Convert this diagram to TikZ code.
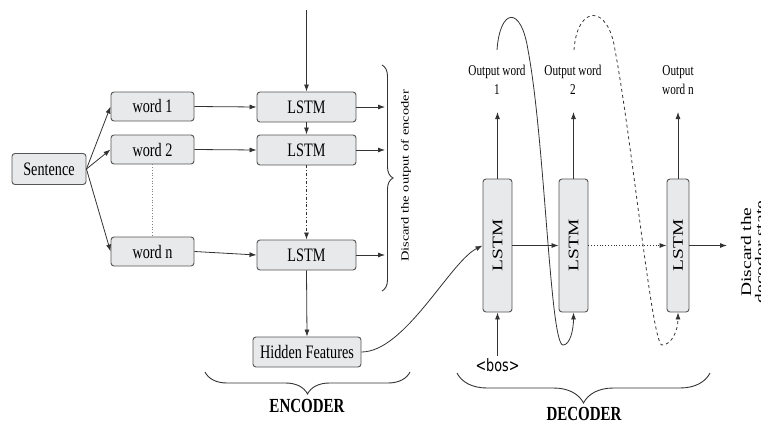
\documentclass[tikz,border=0pt]{standalone}
\usepackage{fontspec}
\setmainfont[FakeStretch=0.75]{Liberation Serif}
\newfontfamily\rotfont[FakeStretch=1.3333]{Liberation Serif}
\newfontfamily\bosfont[FakeStretch=0.75]{DejaVu Sans}
\usetikzlibrary{arrows.meta,decorations.pathreplacing}
\definecolor{boxfill}{HTML}{E8E9EA}
\definecolor{boxline}{HTML}{555555}
\definecolor{ln}{HTML}{333333}
\begin{document}
\begin{tikzpicture}[x=1pt,y=-1pt,
  box/.style={draw=boxline, fill=boxfill, rounded corners=3pt, line width=0.9pt, inner sep=0pt, font=\fontsize{19}{22}\selectfont},
  wbox/.style={box, minimum width=83pt, minimum height=29pt},
  ebox/.style={box, minimum width=99pt, minimum height=30pt},
  dbox/.style={box, minimum width=29pt, minimum height=133pt},
  dtext/.style={rotate=90, inner sep=0pt, font=\rotfont\fontsize{14.6}{17}\selectfont},
  arr/.style={draw=ln, line width=0.8pt, -{Latex[length=7pt,width=5pt]}},
  outlbl/.style={align=center, inner sep=0pt, font=\fontsize{15}{19}\selectfont},
  bracestyle/.style={draw=ln, line width=0.9pt, decorate},
  title/.style={font=\bfseries\fontsize{20}{24}\selectfont, inner sep=0pt}]
\useasboundingbox (0,0) rectangle (761,423);

% ---------- encoder ----------
\node[box, minimum width=74pt, minimum height=31pt] (sent) at (49,169) {Sentence};
\node[wbox] (w1) at (152.5,106.5) {word 1};
\node[wbox] (w2) at (152.5,149.5) {word 2};
\node[wbox] (wn) at (152.5,251.5) {word n};

\node[ebox] (e1) at (306.5,107) {LSTM};
\node[ebox] (e2) at (306.5,150) {LSTM};
\node[ebox] (e3) at (306.5,255) {LSTM};
\node[box, minimum width=108pt, minimum height=30pt] (hf) at (307,352) {Hidden Features};

\coordinate (top) at (306.5,10);
\coordinate (o1) at (385,107);
\coordinate (o2) at (385,150);
\coordinate (o3) at (385,255);

\draw[arr] (sent.east) -- (w1.west);
\draw[arr] (sent.east) -- (w2.west);
\draw[arr] (sent.east) -- (wn.west);
\draw[draw=gray, line width=0.7pt, dotted] (w2.south) -- (wn.north);

\draw[arr] (w1.east) -- (e1.west);
\draw[arr] (w2.east) -- (e2.west);
\draw[arr] (wn.east) -- (e3.west);

\draw[arr] (top) -- (e1.north);
\draw[arr] (e1.south) -- (e2.north);
\draw[arr, dash dot] (e2.south) -- (e3.north);
\draw[arr] (e3.south) -- (hf.north);

\draw[arr] (e1.east) -- (o1);
\draw[arr] (e2.east) -- (o2);
\draw[arr] (e3.east) -- (o3);

\draw[bracestyle, decoration={brace, amplitude=11pt}] (382,65) -- (382,291);
\node[rotate=90, inner sep=0pt, font=\rotfont\fontsize{10.85}{13}\selectfont] (disc) at (406,176) {Discard the output of encoder};

\draw[bracestyle, decoration={brace, amplitude=22pt}] (410,372) -- (205,372);
\node[title] (enc) at (307,406) {ENCODER};

% ---------- decoder ----------
\node[dbox] (d1) at (497.5,245.5) {};
\node[dbox] (d2) at (573.5,245.5) {};
\node[dbox, minimum width=22pt] (d3) at (678,245.5) {};
\node[dtext] (d1t) at (d1.center) {LSTM};
\node[dtext] (d2t) at (d2.center) {LSTM};
\node[dtext] (d3t) at (d3.center) {LSTM};

\node[outlbl] (ow1) at (497,80) {Output word\\1};
\node[outlbl] (ow2) at (573,80) {Output word\\2};
\node[outlbl] (own) at (678,80) {Output\\word n};
\coordinate (u1) at (497.5,112);
\coordinate (u2) at (573.5,112);
\coordinate (u3) at (678,112);
\draw[arr] (d1.north) -- (u1);
\draw[arr] (d2.north) -- (u2);
\draw[arr] (d3.north) -- (u3);

\node[inner sep=2pt, font=\bosfont\fontsize{17}{20}\selectfont] (bos) at (497.5,365) {<bos>};
\draw[arr] (bos.north) -- (d1.south);

\coordinate (dout) at (727,245.5);
\draw[arr] (d1.east) -- (d2.west);
\draw[arr, dotted] (d2.east) -- (d3.west);
\draw[arr] (d3.east) -- (dout);

\draw[arr] (hf.east) .. controls (405,352) and (450,262) .. (d1.west);

\coordinate (c1) at (497,50);
\coordinate (c2) at (574,50);
\draw[arr] (c1) .. controls (500,8) and (521,5) .. (528,50)
  .. controls (545,140) and (550,345) .. (563,345)
  .. controls (570,345) and (573.5,330) .. (d2.south);
\draw[arr, dashed] (c2) .. controls (577,5) and (608,3) .. (615,50)
  .. controls (632,140) and (652,345) .. (662,345)
  .. controls (672,345) and (678,330) .. (d3.south);

\node[rotate=90, align=center, inner sep=0pt, font=\rotfont\fontsize{14.6}{14}\selectfont] (dstate) at (753,252) {Discard the\\decoder state};

\draw[bracestyle, decoration={brace, amplitude=30pt}] (710,373) -- (457,373);
\node[title] (dec) at (584,414) {DECODER};
\end{tikzpicture}
\end{document}
